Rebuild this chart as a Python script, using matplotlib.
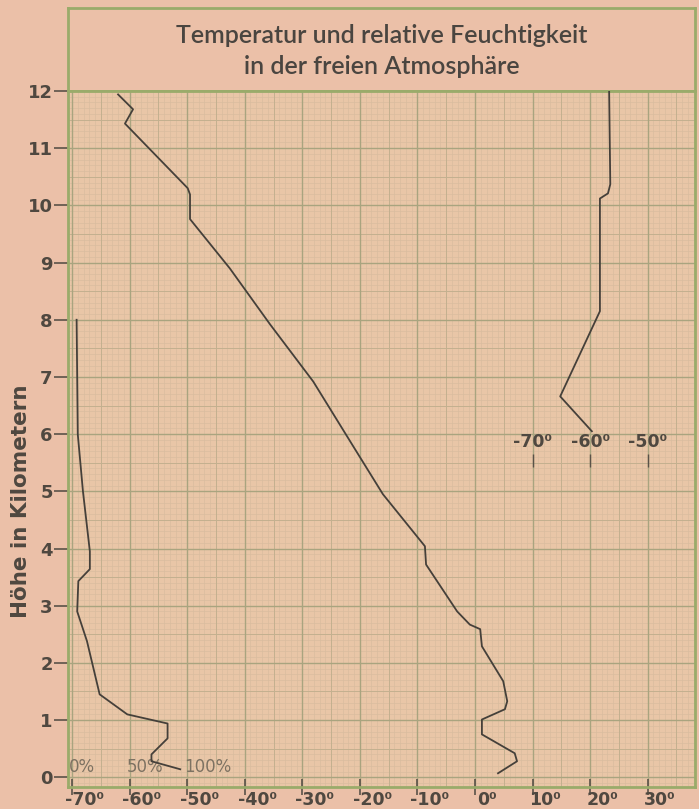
import numpy as np
import matplotlib
matplotlib.use("Agg")
import matplotlib.pyplot as plt
import matplotlib.transforms as mtrans

# temperature profile (lower scale, deg C) vs height in km
temp_h = [11.94, 11.68, 11.43, 10.30, 10.19, 9.76, 8.90, 7.92, 6.92, 5.73, 4.95,
          4.04, 3.72, 2.90, 2.67, 2.59, 2.29, 1.68, 1.33, 1.19, 1.01, 0.75, 0.42, 0.28, 0.07]
temp_c = [-62.0, -59.4, -60.8, -49.9, -49.5, -49.5, -42.6, -35.6, -28.1, -20.8, -16.0,
          -8.7, -8.5, -3.1, -0.9, 0.9, 1.2, 4.9, 5.6, 5.2, 1.2, 1.2, 6.9, 7.3, 4.0]

# upper temperature profile (inner scale, deg C)
upper_h = [12.0, 10.37, 10.21, 10.12, 8.15, 6.66, 6.05]
upper_c = [-56.7, -56.5, -56.9, -58.3, -58.3, -65.2, -59.7]

# relative humidity (%) vs height in km
hum_h = [8.0, 6.0, 5.0, 3.95, 3.64, 3.43, 2.90, 2.38, 1.45, 1.10, 0.94, 0.68, 0.40, 0.28, 0.14]
hum_pct = [4.0, 5.0, 9.5, 15.5, 15.5, 5.5, 4.5, 13.0, 24.0, 48.0, 83.0, 83.0, 69.0, 69.0, 94.0]

x_ticks = [-70, -60, -50, -40, -30, -20, -10, 0, 10, 20, 30]
x_labels = ['-70⁰', '-60⁰', '-50⁰', '-40⁰', '-30⁰', '-20⁰', '-10⁰', '0⁰', '10⁰', '20⁰', '30⁰']
upper_ticks = [-70, -60, -50]
upper_labels = ['-70⁰', '-60⁰', '-50⁰']
hum_ticks = [0, 50, 100]
hum_labels = ['0%', '50%', '100%']
y_ticks = list(range(0, 13))

page = '#ebc0a8'
paper = '#e9c6a7'
green = '#9aab6a'
ink = '#45403a'
label_col = '#4f4840'

W, H = 699, 809
fig = plt.figure(figsize=(W / 100, H / 100), dpi=100, facecolor=page)

def fx(px):
    return px / W

def fy(py):
    return 1 - py / H

L, R, T, B = 68, 695, 91, 787
xlim = ((L - 475) / 5.757, (R - 475) / 5.757)
ylim = (-0.17, 12.0)

# title box
tax = fig.add_axes([fx(L), fy(T), fx(R) - fx(L), fy(8) - fy(T)])
tax.set_facecolor(page)
tax.set_xticks([])
tax.set_yticks([])
for s in tax.spines.values():
    s.set_color(green)
    s.set_linewidth(2)
tfont = dict(family=['Lato', 'DejaVu Sans'], fontsize=18, fontweight='semibold',
             color='#4a4540', ha='center', va='center')
tax.text(0.5, 0.67, 'Temperatur und relative Feuchtigkeit', transform=tax.transAxes, **tfont)
tax.text(0.5, 0.30, 'in der freien Atmosphäre', transform=tax.transAxes, **tfont)

# main chart
ax = fig.add_axes([fx(L), fy(B), fx(R) - fx(L), fy(T) - fy(B)])
ax.set_facecolor(paper)
ax.set_xlim(xlim)
ax.set_ylim(ylim)

# millimetre paper grid
for v in np.arange(-70, 39, 1):
    if v % 10 == 0:
        ax.axvline(v, color='#a9a47f', lw=1.0, zorder=0.5)
    elif v % 5 == 0:
        ax.axvline(v, color='#c3b08f', lw=0.7, zorder=0.4)
    else:
        ax.axvline(v, color='#d8bc9e', lw=0.45, zorder=0.3)
for v in np.arange(-1, 121, 1):
    h = v / 10
    if v % 10 == 0:
        ax.axhline(h, color='#a9a47f', lw=1.0, zorder=0.5)
    elif v % 5 == 0:
        ax.axhline(h, color='#c3b08f', lw=0.7, zorder=0.4)
    else:
        ax.axhline(h, color='#d8bc9e', lw=0.45, zorder=0.3)

ax.plot(temp_c, temp_h, color=ink, lw=1.3, zorder=3)

for s in ax.spines.values():
    s.set_color(green)
    s.set_linewidth(2)

ax.set_xticks(x_ticks)
ax.set_xticklabels(x_labels, fontsize=12.5, fontweight='bold', color=label_col)
ax.tick_params(axis='x', direction='inout', length=12, width=1.2, color='#5a5248', pad=-3)
off = mtrans.ScaledTranslation(9 / 72, 0, fig.dpi_scale_trans)
for lab in ax.get_xticklabels():
    lab.set_transform(lab.get_transform() + off)

ax.set_yticks(y_ticks)
ax.set_yticklabels([str(t) for t in y_ticks], fontsize=13, fontweight='bold', color=label_col)
ax.tick_params(axis='y', direction='out', length=10, width=1.2, color='#5a5248', pad=1)
ax.set_ylabel('Höhe in Kilometern', fontsize=15.5, fontweight='bold', color=label_col)
ax.yaxis.set_label_coords(-0.059, 0.41)

# inner temperature scale for the upper curve
ax2 = ax.twiny()
ax2.set_xlim(xlim[0] - 80, xlim[1] - 80)
ax2.set_ylim(ylim)
ax2.plot(upper_c, upper_h, color=ink, lw=1.3, zorder=3)
ax2.xaxis.set_ticks_position('top')
ax2.spines['top'].set_position(('data', 5.65))
for s in ax2.spines.values():
    s.set_visible(False)
ax2.set_xticks(upper_ticks)
ax2.set_xticklabels(upper_labels, fontsize=12.5, fontweight='bold', color=label_col)
ax2.tick_params(axis='x', direction='in', length=9, width=1.0, color='#5a5248', pad=2)

# humidity scale
ax3 = ax.twiny()
ax3.set_xlim((xlim[0] + 70) * 5, (xlim[1] + 70) * 5)
ax3.set_ylim(ylim)
ax3.plot(hum_pct, hum_h, color=ink, lw=1.3, zorder=3)
ax3.xaxis.set_ticks_position('top')
ax3.spines['top'].set_position(('data', 0.0))
for s in ax3.spines.values():
    s.set_visible(False)
ax3.set_xticks(hum_ticks)
ax3.set_xticklabels(hum_labels, fontsize=12, color='#7d7262')
ax3.tick_params(axis='x', length=0, pad=1)
off2 = mtrans.ScaledTranslation(-2 / 72, 0, fig.dpi_scale_trans)
for lab in ax3.get_xticklabels():
    lab.set_ha('left')
    lab.set_transform(lab.get_transform() + off2)

fig.savefig('out.png', dpi=100, facecolor=page)
